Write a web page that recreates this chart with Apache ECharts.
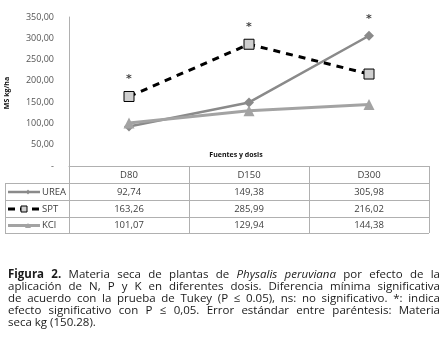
<!DOCTYPE html>
<html>
<head>
<meta charset="utf-8">
<script src="https://cdn.jsdelivr.net/npm/echarts@6/dist/echarts.min.js"></script>
<style>
  html, body { margin: 0; padding: 0; background: #fff; }
  #chart { width: 448px; height: 346px; }
</style>
</head>
<body>
<div id="chart"></div>
<script>
"use strict";
const categories = ['D80', 'D150', 'D300'];
const urea = [92.74, 149.38, 305.98];
const spt = [163.26, 285.99, 216.02];
const kcl = [101.07, 129.94, 144.38];
const marks = ['*', '*', '*'];
const yTicks = [0, 50, 100, 150, 200, 250, 300, 350];
const captionLines = [
    [['Figura 2.', 'bold'], ['Materia seca de plantas de', 'normal'], ['Physalis peruviana', 'italic'], ['por efecto de la', 'normal']],
    [['aplicación de N, P y K en diferentes dosis. Diferencia mínima significativa', 'normal']],
    [['de acuerdo con la prueba de Tukey (P ≤ 0.05), ns: no significativo. *: indica', 'normal']],
    [['efecto significativo con P ≤ 0,05. Error estándar entre paréntesis: Materia', 'normal']],
    [['seca kg (150.28).', 'normal']]
];

const fmt = v => v === 0 ? '-' : v.toFixed(2).replace('.', ',');

const G = { left: 69, right: 19, top: 17, bottom: 180 };
const colX = [5, 69, 189, 309, 429];
const rowY = [166, 183, 200, 217, 233];
const gridColor = '#b0b0b0';
const txtColor = '#404040';

const container = document.getElementById('chart');
const myChart = echarts.init(container);

const series = [
    {
        name: 'UREA', type: 'line', data: urea,
        symbol: 'diamond', symbolSize: 10,
        lineStyle: { color: '#8a8a8a', width: 2.5 },
        itemStyle: { color: '#8a8a8a' }
    },
    {
        name: 'SPT', type: 'line', data: spt,
        symbol: 'rect', symbolSize: 10,
        lineStyle: { color: '#000', width: 3, type: [7, 6] },
        itemStyle: { color: '#cfcfcf', borderColor: '#000', borderWidth: 1 }
    },
    {
        name: 'KCl', type: 'line', data: kcl,
        symbol: 'triangle', symbolSize: 11,
        lineStyle: { color: '#a3a3a3', width: 3 },
        itemStyle: { color: '#a3a3a3' }
    },
    {
        name: 'sig', type: 'scatter', symbol: 'circle', symbolSize: 1,
        itemStyle: { color: 'rgba(0,0,0,0)' },
        data: categories.map((c, i) => Math.max(urea[i], spt[i], kcl[i])),
        label: {
            show: true, position: 'top', distance: 11,
            formatter: p => marks[p.dataIndex],
            color: '#111', fontSize: 11, fontWeight: 'bold', fontFamily: 'DejaVu Sans'
        },
        silent: true, z: 5
    }
];

// data table under the axis
const graphic = [];
function hline(x1, x2, y) {
    graphic.push({ type: 'line', shape: { x1, y1: y + 0.5, x2, y2: y + 0.5 }, style: { stroke: gridColor, lineWidth: 1 } });
}
function vline(x, y1, y2) {
    graphic.push({ type: 'line', shape: { x1: x + 0.5, y1, x2: x + 0.5, y2 }, style: { stroke: gridColor, lineWidth: 1 } });
}
function txt(x, y, text, opt) {
    graphic.push({
        type: 'text', x, y,
        style: Object.assign({ text, fill: txtColor, font: '9.5px "Open Sans"', align: 'center', verticalAlign: 'middle' }, opt || {})
    });
}
for (let r = 1; r < rowY.length; r++) hline(colX[0], colX[4], rowY[r]);
vline(colX[0], rowY[1], rowY[4]);
for (let c = 1; c < colX.length; c++) vline(colX[c], rowY[0], rowY[4]);
categories.forEach((c, i) => txt((colX[i + 1] + colX[i + 2]) / 2, (rowY[0] + rowY[1]) / 2 + 0.5, c));
const rows = [
    { name: 'UREA', data: urea, s: series[0] },
    { name: 'SPT', data: spt, s: series[1] },
    { name: 'KCl', data: kcl, s: series[2] }
];
rows.forEach((row, r) => {
    const cy = (rowY[r + 1] + rowY[r + 2]) / 2 + 0.5;
    const ls = row.s.lineStyle;
    graphic.push({
        type: 'line', shape: { x1: 8, y1: cy, x2: 40, y2: cy },
        style: { stroke: ls.color, lineWidth: ls.width, lineDash: r === 1 ? [7, 5] : null }
    });
    if (r === 1) {
        graphic.push({ type: 'rect', shape: { x: 21, y: cy - 3, width: 6, height: 6 }, style: { fill: '#cfcfcf', stroke: '#000', lineWidth: 1 } });
    } else if (r === 0) {
        graphic.push({ type: 'polygon', shape: { points: [[26, cy], [28, cy - 2.5], [30, cy], [28, cy + 2.5]] }, style: { fill: ls.color } });
    } else {
        graphic.push({ type: 'polygon', shape: { points: [[25, cy + 2.5], [28, cy - 2.5], [31, cy + 2.5]] }, style: { fill: ls.color } });
    }
    txt(42, cy, row.name, { align: 'left' });
    row.data.forEach((v, i) => txt((colX[i + 1] + colX[i + 2]) / 2, cy, fmt(v)));
});

// axis titles
graphic.push({
    type: 'text', x: 7, y: 93, rotation: Math.PI / 2,
    style: { text: 'MS kg/ha', fill: '#111', font: 'bold 7px "Open Sans"', align: 'center', verticalAlign: 'middle' }
});
txt(236, 155, 'Fuentes y dosis', { fill: '#111', font: 'bold 7px "Open Sans"' });

// caption, justified word by word
const ctx = document.createElement('canvas').getContext('2d');
const fontOf = st => (st === 'bold' ? 'bold ' : st === 'italic' ? 'italic ' : '') + '11.5px "Open Sans"';
const capLeft = 8, capRight = 440;
captionLines.forEach((line, li) => {
    const words = [];
    line.forEach(([t, st]) => t.split(' ').forEach(w => words.push({ w, st })));
    words.forEach(o => { ctx.font = fontOf(o.st); o.width = ctx.measureText(o.w).width; });
    const total = words.reduce((a, o) => a + o.width, 0);
    ctx.font = fontOf('normal');
    const natural = ctx.measureText(' ').width;
    const last = li === captionLines.length - 1;
    const gap = last ? natural : Math.max(2.5, (capRight - capLeft - total) / (words.length - 1));
    let x = capLeft;
    const y = 275 + li * 12;
    words.forEach(o => {
        graphic.push({
            type: 'text', x, y,
            style: { text: o.w, fill: '#1a1a1a', font: fontOf(o.st), align: 'left', verticalAlign: 'middle' }
        });
        x += o.width + gap;
    });
});

const option = {
    animation: false,
    backgroundColor: '#fff',
    grid: { left: G.left, right: G.right, top: G.top, bottom: G.bottom, containLabel: false },
    xAxis: {
        type: 'category', data: categories, boundaryGap: true,
        axisLine: { show: true, lineStyle: { color: gridColor } },
        axisTick: { show: false }, axisLabel: { show: false }
    },
    yAxis: {
        type: 'value', min: 0, max: 350, interval: 50,
        axisLine: { show: true, lineStyle: { color: gridColor } },
        axisTick: { show: false },
        splitLine: { show: false },
        axisLabel: {
            margin: 15, color: '#555', fontSize: 9, fontFamily: 'Open Sans',
            formatter: v => yTicks.indexOf(v) >= 0 ? fmt(v) : ''
        }
    },
    series,
    graphic
};
myChart.setOption(option);
</script>
</body>
</html>
